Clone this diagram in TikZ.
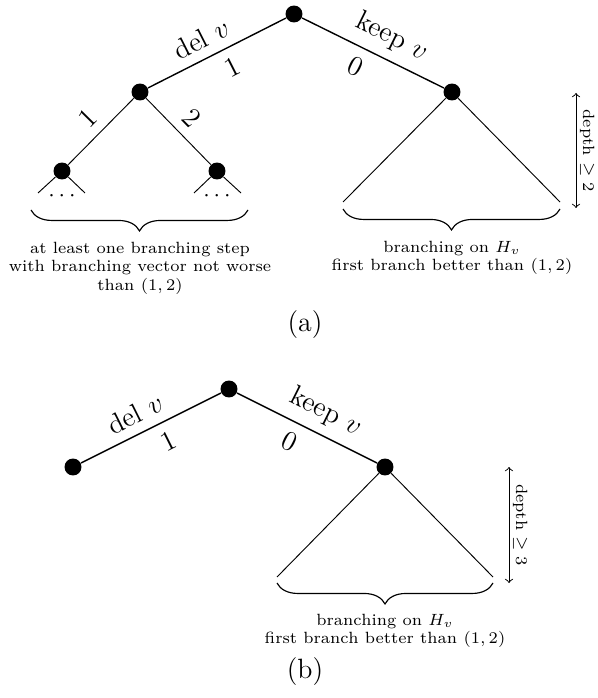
\documentclass[tikz,border=0pt]{standalone}
\usetikzlibrary{decorations.pathreplacing}
\begin{document}
\begin{tikzpicture}[
		x=0.43pt, y=-0.43pt,
		vert/.style={circle, fill, inner sep=0pt, minimum size=7.3pt},
		edge/.style={line width=0.6pt},
		sub/.style={line width=0.4pt},
		lbl/.style={sloped, font=\large, inner sep=4pt},
		note/.style={align=center, font=\scriptsize},
		brc/.style={decorate, decoration={brace, mirror, amplitude=9pt}, line width=0.5pt},
		depth/.style={<->, line width=0.4pt},
		depthlbl/.style={midway, rotate=-90, anchor=south, font=\scriptsize, inner sep=1.5pt}
		]
		
		\useasboundingbox (0,0) rectangle (598,698);
		
		% (a)
		\node[vert] (root) at (294,14) {};
		\node[vert] (del) at (140,92) {};
		\node[vert] (keep) at (452,92) {};
		\node[vert] (one) at (62,171) {};
		\node[vert] (two) at (217,171) {};
		
		\coordinate (oneL) at (38,193);
		\coordinate (oneR) at (85,193);
		\coordinate (twoL) at (194,193);
		\coordinate (twoR) at (241,193);
		\coordinate (keepL) at (343,202);
		\coordinate (keepR) at (560,202);
		
		\draw[edge] (del) -- node[lbl, above, pos=0.45] {del $v$} node[lbl, below, pos=0.55] {1} (root);
		\draw[edge] (root) -- node[lbl, above, pos=0.56] {keep $v$} node[lbl, below, pos=0.44] {0} (keep);
		\draw[sub] (one) -- node[lbl, above, pos=0.5] {1} (del);
		\draw[sub] (del) -- node[lbl, above, pos=0.5] {2} (two);
		\draw[sub] (one) -- (oneL);
		\draw[sub] (one) -- (oneR);
		\draw[sub] (two) -- (twoL);
		\draw[sub] (two) -- (twoR);
		\draw[sub] (keep) -- (keepL);
		\draw[sub] (keep) -- (keepR);
		\node[inner sep=0pt] (dotsL) at (62,196) {$\cdots$};
		\node[inner sep=0pt] (dotsR) at (217,196) {$\cdots$};
		
		\draw[brc] (31,210) -- (248,210);
		\draw[brc] (343,209) -- (560,209);
		\node[note] (noteL) at (140,268) {at least one branching step\\with branching vector not worse\\than $(1,2)$};
		\node[note] (noteR) at (452,258) {branching on $H_v$\\first branch better than $(1,2)$};
		
		\coordinate (da) at (576,93);
		\coordinate (db) at (576,208);
		\draw[depth] (da) -- node[depthlbl] {depth $\geq 2$} (db);
		
		\node[font=\large] (capA) at (305,325) {(a)};
		
		% (b)
		\node[vert] (rootB) at (229,389) {};
		\node[vert] (delB) at (73,467) {};
		\node[vert] (keepB) at (385,467) {};
		
		\coordinate (keepBL) at (277,577);
		\coordinate (keepBR) at (493,577);
		
		\draw[edge] (delB) -- node[lbl, above, pos=0.45] {del $v$} node[lbl, below, pos=0.56] {1} (rootB);
		\draw[edge] (rootB) -- node[lbl, above, pos=0.56] {keep $v$} node[lbl, below, pos=0.44] {0} (keepB);
		\draw[sub] (keepB) -- (keepBL);
		\draw[sub] (keepB) -- (keepBR);
		
		\draw[brc] (277,583) -- (493,583);
		\node[note] (noteB) at (385,631) {branching on $H_v$\\first branch better than $(1,2)$};
		
		\coordinate (dc) at (509,467);
		\coordinate (dd) at (509,583);
		\draw[depth] (dc) -- node[depthlbl] {depth $\geq 3$} (dd);
		
		\node[font=\large] (capB) at (305,672) {(b)};
		
	\end{tikzpicture}
\end{document}
